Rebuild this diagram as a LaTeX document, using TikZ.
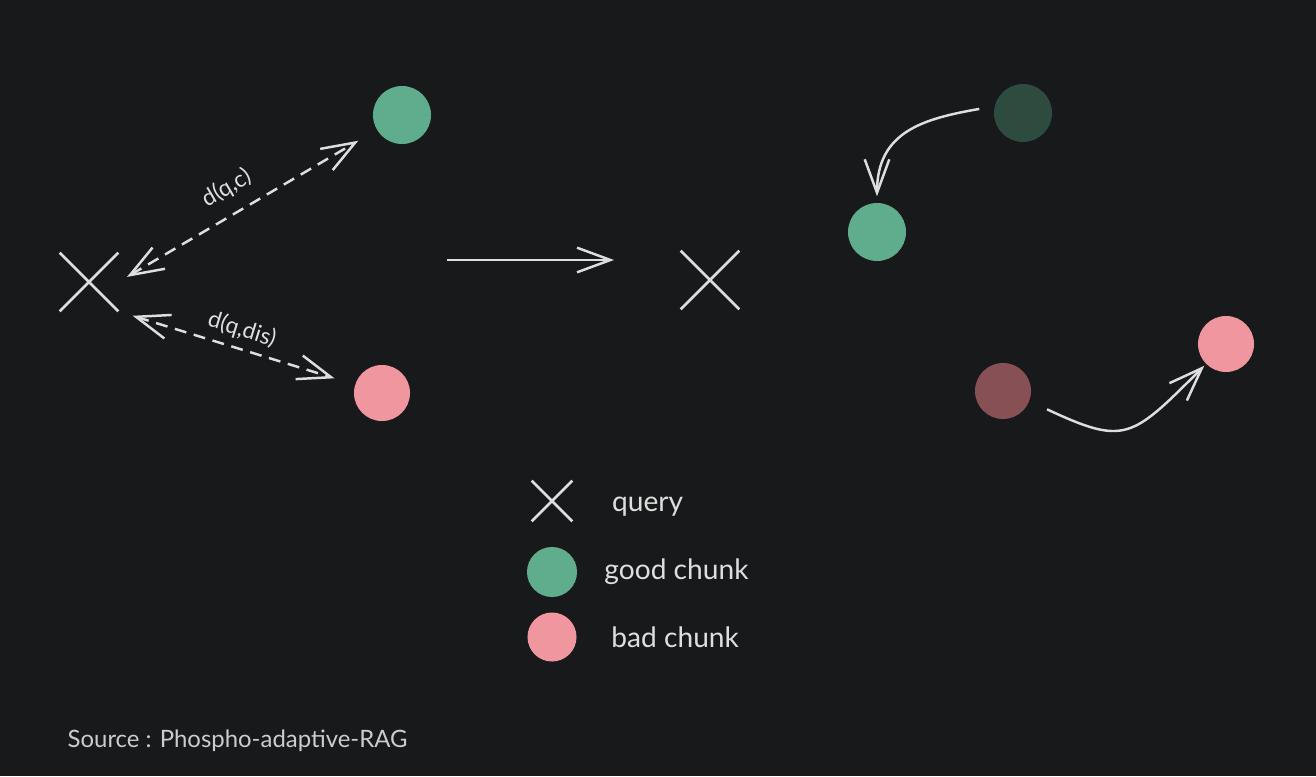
\documentclass[tikz,border=0pt]{standalone}
\usepackage{fontspec}
\setmainfont{Lato}
\usepackage{tikz}
\usetikzlibrary{shapes.misc, arrows.meta, positioning}

\definecolor{bgdark}{HTML}{18191B}
\definecolor{inkline}{HTML}{DEDEDE}
\definecolor{goodgreen}{HTML}{5FAD8C}
\definecolor{badpink}{HTML}{F0969F}
\definecolor{oldgreen}{HTML}{2D4B3E}
\definecolor{oldred}{HTML}{875055}

\begin{document}
\begin{tikzpicture}[
			x=0.01cm, y=-0.01cm,
			>={Straight Barb[length=9.5pt, width=7pt]},
			query/.style={cross out, draw=inkline, line width=0.75pt, minimum size=0.56cm, inner sep=0pt},
			chunk/.style={circle, inner sep=0pt, minimum size=0.58cm},
			link/.style={draw=inkline, line width=0.7pt},
			gap/.style={dash pattern=on 3.4pt off 2.2pt},
			hand/.style={text=inkline, font=\fontsize{8}{10}\selectfont, inner sep=0pt}
			]
			\fill[bgdark] (0,0) rectangle (1316,776);
			\useasboundingbox (0,0) rectangle (1316,776);
			% before: distances to the query
			\node[query] (q1) at (89,282) {};
			\node[chunk, fill=goodgreen] (good1) at (402,115) {};
			\node[chunk, fill=badpink, minimum size=0.56cm] (bad1) at (382,393) {};
			\draw[link, gap, <->, shorten <=0.1cm, shorten >=0.21cm] (q1.east) -- node[pos=0.47, above=4pt, sloped, hand, font=\fontsize{6.5}{8}\selectfont] {d(q,c)} (good1);
			\draw[link, gap, <->, shorten <=0.15cm, shorten >=0.21cm] (q1.south east) -- node[pos=0.5, above=2pt, sloped, hand, font=\fontsize{6.5}{8}\selectfont] {d(q,dis)} (bad1);
			% transition
			\coordinate (stepA) at (447,260);
			\coordinate (stepB) at (614,260);
			\draw[link, ->] (stepA) -- (stepB);
			% after: chunks moved
			\node[query] (q2) at (710,280) {};
			\node[chunk, fill=oldgreen] (oldgood) at (1023,113) {};
			\node[chunk, fill=goodgreen] (newgood) at (877,232) {};
			\node[chunk, fill=oldred, minimum size=0.56cm] (oldbad) at (1003,391) {};
			\node[chunk, fill=badpink, minimum size=0.56cm] (newbad) at (1226,344) {};
			\draw[link, ->, shorten <=0.15cm, shorten >=0.06cm] (oldgood.167) to[out=190, in=90, looseness=1.2] (newgood.north);
			\draw[link, ->, shorten <=0.19cm, shorten >=0.02cm] (oldbad.-21) to[out=-25, in=225, looseness=1.5] (newbad.225);
			% legend
			\node[query, minimum size=0.38cm] (lq) at (552,501) {};
			\node[hand, right=0.39cm of lq, yshift=-0.06cm] (lqtext) {query};
			\node[chunk, fill=goodgreen, minimum size=0.5cm] (lgood) at (552,572) {};
			\node[hand, right=0.26cm of lgood] (lgoodtext) {good chunk};
			\node[chunk, fill=badpink, minimum size=0.49cm] (lbad) at (552,637) {};
			\node[hand, right=0.335cm of lbad] (lbadtext) {bad chunk};
			% source
			\node[anchor=west, inner sep=0pt, text=inkline!92!black, font=\fontsize{6.8}{8}\selectfont] (src) at (67,741) {Source : Phospho-adaptive-RAG};
		\end{tikzpicture}
\end{document}
